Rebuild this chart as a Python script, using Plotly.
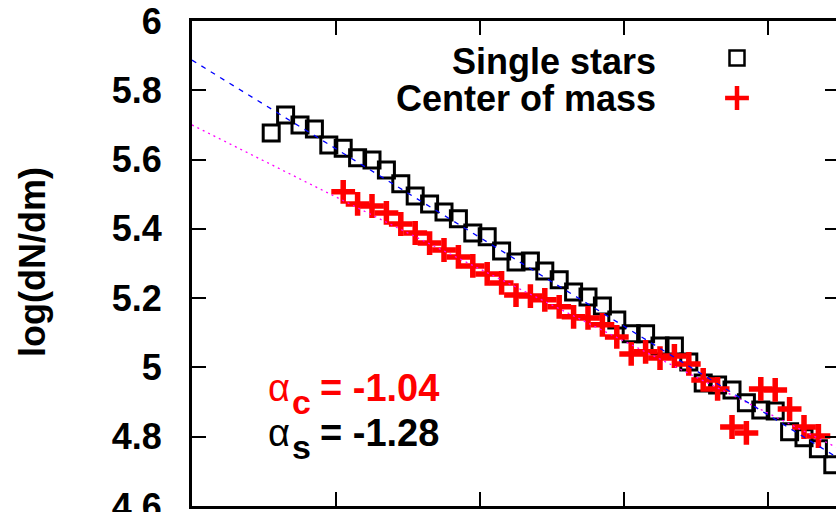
import plotly.graph_objects as go

# ---------------- data ----------------
x_single = [-0.89, -0.87, -0.85, -0.83, -0.81, -0.79, -0.77, -0.75, -0.73, -0.71,
            -0.69, -0.67, -0.65, -0.63, -0.61, -0.59, -0.57, -0.55, -0.53, -0.51,
            -0.49, -0.47, -0.45, -0.43, -0.41, -0.39, -0.37, -0.35, -0.33, -0.31,
            -0.29, -0.27, -0.25, -0.23, -0.21, -0.19, -0.17, -0.15, -0.13, -0.11]
y_single = [5.677, 5.729, 5.700, 5.688, 5.642, 5.633, 5.605, 5.599, 5.570, 5.530,
            5.495, 5.472, 5.449, 5.429, 5.388, 5.377, 5.336, 5.304, 5.307, 5.278,
            5.253, 5.218, 5.203, 5.177, 5.137, 5.097, 5.097, 5.062, 5.062, 5.016,
            4.955, 4.949, 4.935, 4.898, 4.877, 4.874, 4.814, 4.797, 4.765, 4.719]

x_com = [-0.79, -0.77, -0.75, -0.73, -0.71, -0.69, -0.67, -0.65, -0.63, -0.61,
         -0.59, -0.57, -0.55, -0.53, -0.51, -0.49, -0.47, -0.45, -0.43, -0.41,
         -0.39, -0.37, -0.35, -0.33, -0.31, -0.29, -0.27, -0.25, -0.23, -0.21,
         -0.19, -0.17, -0.15, -0.13]
y_com = [5.507, 5.472, 5.466, 5.446, 5.414, 5.388, 5.359, 5.339, 5.319, 5.293,
         5.270, 5.244, 5.209, 5.206, 5.195, 5.175, 5.146, 5.143, 5.123, 5.088,
         5.039, 5.045, 5.027, 5.033, 5.010, 4.964, 4.938, 4.828, 4.811, 4.938,
         4.935, 4.880, 4.828, 4.802]

# power-law fits: log(dN/dm) = y_at_left + alpha * (x - x_left)
alpha_s = -1.28
alpha_c = -1.04
fit_s_at_left = 5.887
fit_c_at_left = 5.700

series_names = ["Single stars", "Center of mass"]
y_ticks = [4.6, 4.8, 5.0, 5.2, 5.4, 5.6, 5.8, 6.0]
y_tick_labels = ["4.6", "4.8", "5", "5.2", "5.4", "5.6", "5.8", "6"]
x_ticks = [-1.0, -0.8, -0.6, -0.4, -0.2]
y_title = "log(dN/dm)"

# ---------------- layout geometry ----------------
W, H = 836, 512
L, R, T, B = 192, 0, 21, 6
x_range = [-1.0, -1.0 + (W - L - R) / 720.0]
y_range = [4.6, 6.0]
FONT = "Liberation Sans"


def px_x(px):
    return (px - L) / (W - L - R)


def px_y(py):
    return (H - B - py) / (H - B - T)


fit_x = list(x_range)
fit_s_y = [fit_s_at_left + alpha_s * (v - x_range[0]) for v in fit_x]
fit_c_y = [fit_c_at_left + alpha_c * (v - x_range[0]) for v in fit_x]

fig = go.Figure()

fig.add_trace(go.Scatter(
    x=x_single, y=y_single, mode="markers", name=series_names[0],
    marker=dict(symbol="square-open", size=16, color="black",
                line=dict(color="black", width=3)),
    showlegend=False, cliponaxis=True))

fig.add_trace(go.Scatter(
    x=x_com, y=y_com, mode="markers", name=series_names[1],
    marker=dict(symbol="cross-thin", size=17, color="#ff0000",
                line=dict(color="#ff0000", width=5.5)),
    showlegend=False, cliponaxis=True))

fig.add_trace(go.Scatter(
    x=fit_x, y=fit_c_y, mode="lines", yaxis="y2",
    line=dict(color="#ff00ff", width=1.3, dash="2px,4px"),
    showlegend=False))
fig.add_trace(go.Scatter(
    x=fit_x, y=fit_s_y, mode="lines", yaxis="y2",
    line=dict(color="#0000ff", width=1.3, dash="5px,6px"),
    showlegend=False))

# custom gnuplot-style key samples (on a hidden 0..1 overlay)
key_x = [px_x(737)]
fig.add_trace(go.Scatter(
    x=key_x, y=[px_y(58)], mode="markers", xaxis="x2", yaxis="y3",
    marker=dict(symbol="square-open", size=15, color="black",
                line=dict(color="black", width=2.5)),
    showlegend=False, cliponaxis=False))
fig.add_trace(go.Scatter(
    x=key_x, y=[px_y(98)], mode="markers", xaxis="x2", yaxis="y3",
    marker=dict(symbol="cross-thin", size=17, color="#ff0000",
                line=dict(color="#ff0000", width=4.5)),
    showlegend=False, cliponaxis=False))

annotations = [
    dict(text="<b>" + y_title + "</b>", x=px_x(32), y=px_y(262), xref="paper", yref="paper",
         textangle=-90, showarrow=False, xanchor="center", yanchor="middle",
         font=dict(family=FONT, size=36, color="black")),
    dict(text="<b>" + series_names[0] + "</b>", x=px_x(658), y=px_y(61), xref="paper", yref="paper",
         showarrow=False, xanchor="right", yanchor="middle",
         font=dict(family=FONT, size=36, color="black")),
    dict(text="<b>" + series_names[1] + "</b>", x=px_x(658), y=px_y(99), xref="paper", yref="paper",
         showarrow=False, xanchor="right", yanchor="middle",
         font=dict(family=FONT, size=36, color="black")),
]

alpha_lines = [("c", alpha_c, "#ff0000", 388), ("s", alpha_s, "black", 433)]
for sub, val, col, yc in alpha_lines:
    annotations.append(dict(text="α", x=px_x(266), y=px_y(yc), xref="paper", yref="paper",
                            showarrow=False, xanchor="left", yanchor="middle",
                            font=dict(family=FONT, size=38, color=col)))
    annotations.append(dict(text="<b>" + sub + "</b>", x=px_x(290), y=px_y(yc + 14), xref="paper", yref="paper",
                            showarrow=False, xanchor="left", yanchor="middle",
                            font=dict(family=FONT, size=34, color=col)))
    annotations.append(dict(text="<b>= %.2f</b>" % val, x=px_x(318), y=px_y(yc), xref="paper", yref="paper",
                            showarrow=False, xanchor="left", yanchor="middle",
                            font=dict(family=FONT, size=38, color=col)))

axis_common = dict(showgrid=False, zeroline=False, automargin=False)

fig.update_layout(
    width=W, height=H,
    margin=dict(l=L, r=R, t=T, b=B, pad=0, autoexpand=False),
    paper_bgcolor="white", plot_bgcolor="white",
    showlegend=False,
    xaxis=dict(range=x_range, tickvals=x_ticks, showticklabels=False,
               ticks="inside", ticklen=14, tickwidth=2, tickcolor="black",
               showline=True, linewidth=3, linecolor="black", mirror="ticks",
               **axis_common),
    yaxis=dict(range=y_range, tickvals=y_ticks, ticktext=y_tick_labels,
               ticks="inside", ticklen=14, tickwidth=2, tickcolor="black",
               showline=True, linewidth=3, linecolor="black", mirror=False,
               ticklabelstandoff=20, ticklabeloverflow="allow",
               tickfont=dict(family=FONT, size=36, color="black", weight="bold"),
               **axis_common),
    yaxis2=dict(range=y_range, tickvals=y_ticks, overlaying="y", side="right",
                showticklabels=False, ticks="inside", ticklen=11, tickwidth=2,
                tickcolor="black", showline=False, **axis_common),
    xaxis2=dict(range=[0, 1], overlaying="x", visible=False, **axis_common),
    yaxis3=dict(range=[0, 1], overlaying="y", visible=False, **axis_common),
    annotations=annotations,
)

fig.write_html("out.html")
